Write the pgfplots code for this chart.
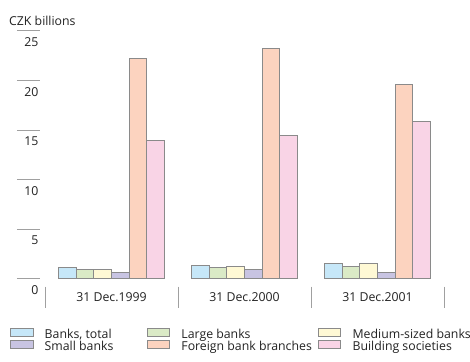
\documentclass[border=0pt]{standalone}
\usepackage{pgfplots}
\pgfplotsset{compat=1.18}
\usepackage{fontspec}
\setmainfont{Open Sans}

\definecolor{cTotal}{HTML}{C6E7F8}
\definecolor{cLarge}{HTML}{DAEAC6}
\definecolor{cMedium}{HTML}{FFF9D5}
\definecolor{cSmall}{HTML}{C8C4E2}
\definecolor{cForeign}{HTML}{FCD3BF}
\definecolor{cBuild}{HTML}{F9D4E6}
\definecolor{cEdge}{HTML}{8A8A8A}
\definecolor{cRule}{HTML}{A0A0A0}
\definecolor{cText}{HTML}{222222}

\newcommand{\lbl}{\fontsize{12.3}{14}\selectfont}

\begin{document}
\begin{tikzpicture}[x=1pt,y=1pt]
\useasboundingbox (0,0) rectangle (470,361);
\node[anchor=base west, text=cText, font=\lbl, inner sep=0pt] at (9,335) {CZK billions};
\begin{axis}[
  at={(45pt,82.3pt)}, anchor=south west,
  scale only axis, width=399pt, height=248pt,
  xmin=-0.5, xmax=2.5, ymin=0, ymax=25,
  clip=false,
  axis line style={draw=none},
  major tick length=0pt,
  ybar=0pt, bar width=17.7pt,
  xtick={0,1,2},
  xticklabels={31 Dec.1999, 31 Dec.2000, 31 Dec.2001},
  ytick={0,5,10,15,20,25},
  /pgf/number format/assume math mode=true,
  ticklabel style={font=\lbl, text=cText},
  yticklabel style={anchor=north east, xshift=-3pt, yshift=-3.5pt},
  xticklabel style={yshift=-10.5pt},
  every axis plot/.append style={draw=cEdge, line width=0.9pt},
  legend columns=3,
  legend cell align=left,
  legend image code/.code={\draw[#1, line width=0.7pt] (0pt,-0.5pt) rectangle (22.5pt,7.5pt);},
  legend style={draw=none, inner sep=0pt, outer sep=0pt,
    at={(-0.0877,-0.198)}, anchor=north west,
    font=\lbl, text=cText,
    row sep=-1.8pt,
    nodes={inner sep=0pt, text height=9pt, text depth=2.5pt},
    /tikz/every odd column/.append style={column sep=11.5pt},
    /tikz/every even column/.append style={column sep=0pt}},
]
% short rules above each value label
\pgfplotsinvokeforeach{0,5,10,15,20,25}{
  \draw[cRule, line width=0.8pt] ([xshift=-28pt]axis cs:-0.5,#1) -- ([xshift=-5.5pt]axis cs:-0.5,#1);
}
% vertical separators between the dates
\pgfplotsinvokeforeach{-0.5,0.5,1.5,2.5}{
  \draw[cRule, line width=0.8pt] ([yshift=-8pt]axis cs:#1,0) -- ([yshift=-29pt]axis cs:#1,0);
}
\addplot[fill=cTotal] coordinates {(0,1.14) (1,1.38) (2,1.58)};
\addlegendentry{\makebox[102pt][l]{Banks, total}}
\addplot[fill=cLarge] coordinates {(0,0.94) (1,1.14) (2,1.28)};
\addlegendentry{\makebox[136.5pt][l]{Large banks}}
\addplot[fill=cMedium] coordinates {(0,0.94) (1,1.20) (2,1.58)};
\addlegendentry{Medium-sized banks}
\addplot[fill=cSmall] coordinates {(0,0.60) (1,0.94) (2,0.67)};
\addlegendentry{\makebox[102pt][l]{Small banks}}
\addplot[fill=cForeign] coordinates {(0,22.18) (1,23.19) (2,19.56)};
\addlegendentry{\makebox[136.5pt][l]{Foreign bank branches}}
\addplot[fill=cBuild] coordinates {(0,13.95) (1,14.42) (2,15.87)};
\addlegendentry{Building societies}
\end{axis}
\end{tikzpicture}
\end{document}
